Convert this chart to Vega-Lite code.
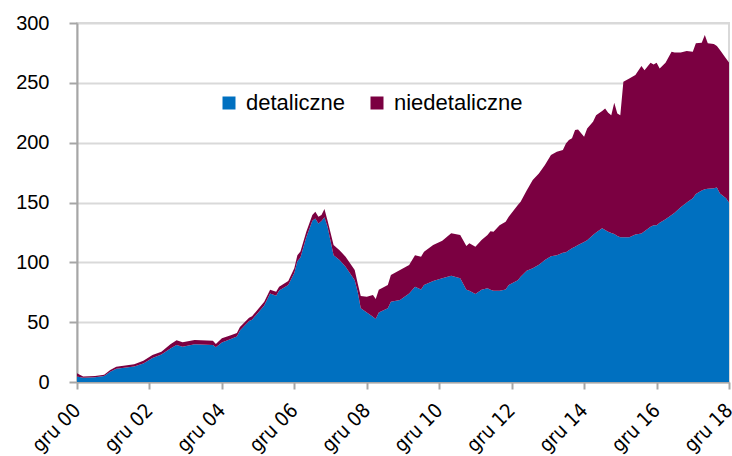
{
  "$schema": "https://vega.github.io/schema/vega-lite/v6.json",
  "width": 652,
  "height": 359,
  "autosize": "none",
  "padding": {"left": 77, "top": 23, "right": 3, "bottom": 74},
  "background": "white",
  "config": {"view": {"stroke": "#d9d9d9", "strokeWidth": 2}},
  "data": {"values": [
    {"date": "2000-12-01", "detaliczne": 4.5, "niedetaliczne": 2.8},
    {"date": "2001-02-01", "detaliczne": 3.5, "niedetaliczne": 1.1},
    {"date": "2001-06-01", "detaliczne": 4, "niedetaliczne": 1},
    {"date": "2001-09-01", "detaliczne": 5, "niedetaliczne": 1},
    {"date": "2001-11-01", "detaliczne": 8.5, "niedetaliczne": 1.5},
    {"date": "2002-01-01", "detaliczne": 11, "niedetaliczne": 1.8},
    {"date": "2002-07-01", "detaliczne": 13, "niedetaliczne": 1.8},
    {"date": "2002-10-01", "detaliczne": 15.5, "niedetaliczne": 2.3},
    {"date": "2003-01-01", "detaliczne": 20, "niedetaliczne": 2.5},
    {"date": "2003-04-01", "detaliczne": 23, "niedetaliczne": 2.3},
    {"date": "2003-07-01", "detaliczne": 28, "niedetaliczne": 3.5},
    {"date": "2003-09-01", "detaliczne": 31, "niedetaliczne": 3.8},
    {"date": "2003-11-01", "detaliczne": 29.5, "niedetaliczne": 3.7},
    {"date": "2004-03-01", "detaliczne": 31.5, "niedetaliczne": 3.5},
    {"date": "2004-09-01", "detaliczne": 31, "niedetaliczne": 3.5},
    {"date": "2004-10-01", "detaliczne": 29, "niedetaliczne": 2.7},
    {"date": "2004-12-01", "detaliczne": 33, "niedetaliczne": 3.5},
    {"date": "2005-03-01", "detaliczne": 36, "niedetaliczne": 3},
    {"date": "2005-05-01", "detaliczne": 38, "niedetaliczne": 3},
    {"date": "2005-06-01", "detaliczne": 43, "niedetaliczne": 3},
    {"date": "2005-09-01", "detaliczne": 51, "niedetaliczne": 2.7},
    {"date": "2005-10-01", "detaliczne": 52, "niedetaliczne": 3},
    {"date": "2006-02-01", "detaliczne": 64, "niedetaliczne": 3},
    {"date": "2006-04-01", "detaliczne": 74, "niedetaliczne": 3},
    {"date": "2006-06-01", "detaliczne": 72, "niedetaliczne": 3.5},
    {"date": "2006-07-01", "detaliczne": 76.5, "niedetaliczne": 3.1},
    {"date": "2006-10-01", "detaliczne": 81, "niedetaliczne": 3.4},
    {"date": "2006-12-01", "detaliczne": 91, "niedetaliczne": 4},
    {"date": "2007-01-01", "detaliczne": 101, "niedetaliczne": 5},
    {"date": "2007-02-01", "detaliczne": 104, "niedetaliczne": 5},
    {"date": "2007-04-01", "detaliczne": 121, "niedetaliczne": 4.6},
    {"date": "2007-06-01", "detaliczne": 134.8, "niedetaliczne": 4.7},
    {"date": "2007-07-01", "detaliczne": 136.7, "niedetaliczne": 5.6},
    {"date": "2007-08-01", "detaliczne": 132.5, "niedetaliczne": 5.5},
    {"date": "2007-09-01", "detaliczne": 134.5, "niedetaliczne": 5},
    {"date": "2007-10-01", "detaliczne": 137.6, "niedetaliczne": 6.9},
    {"date": "2007-11-01", "detaliczne": 129.7, "niedetaliczne": 5.3},
    {"date": "2008-01-01", "detaliczne": 106, "niedetaliczne": 8.5},
    {"date": "2008-03-01", "detaliczne": 102, "niedetaliczne": 8},
    {"date": "2008-05-01", "detaliczne": 96.3, "niedetaliczne": 8.4},
    {"date": "2008-08-01", "detaliczne": 85, "niedetaliczne": 8.6},
    {"date": "2008-09-01", "detaliczne": 75, "niedetaliczne": 7},
    {"date": "2008-10-01", "detaliczne": 61.6, "niedetaliczne": 10.2},
    {"date": "2008-12-01", "detaliczne": 58, "niedetaliczne": 13.3},
    {"date": "2009-02-01", "detaliczne": 54.6, "niedetaliczne": 18.1},
    {"date": "2009-03-01", "detaliczne": 52.6, "niedetaliczne": 16.7},
    {"date": "2009-04-01", "detaliczne": 58, "niedetaliczne": 19},
    {"date": "2009-07-01", "detaliczne": 61.6, "niedetaliczne": 19.4},
    {"date": "2009-08-01", "detaliczne": 67, "niedetaliczne": 22.4},
    {"date": "2009-11-01", "detaliczne": 68.5, "niedetaliczne": 25.1},
    {"date": "2010-02-01", "detaliczne": 74, "niedetaliczne": 23.7},
    {"date": "2010-04-01", "detaliczne": 79.6, "niedetaliczne": 26.4},
    {"date": "2010-06-01", "detaliczne": 77.4, "niedetaliczne": 27.3},
    {"date": "2010-07-01", "detaliczne": 81, "niedetaliczne": 27.9},
    {"date": "2010-10-01", "detaliczne": 84.4, "niedetaliczne": 30.1},
    {"date": "2011-01-01", "detaliczne": 86.6, "niedetaliczne": 31.4},
    {"date": "2011-04-01", "detaliczne": 88.8, "niedetaliczne": 35.4},
    {"date": "2011-07-01", "detaliczne": 86.6, "niedetaliczne": 36.2},
    {"date": "2011-09-01", "detaliczne": 77, "niedetaliczne": 36.6},
    {"date": "2011-10-01", "detaliczne": 76.3, "niedetaliczne": 39.6},
    {"date": "2011-12-01", "detaliczne": 73.5, "niedetaliczne": 39.5},
    {"date": "2012-02-01", "detaliczne": 77, "niedetaliczne": 41.6},
    {"date": "2012-04-01", "detaliczne": 78.3, "niedetaliczne": 44.5},
    {"date": "2012-05-01", "detaliczne": 77, "niedetaliczne": 49},
    {"date": "2012-06-01", "detaliczne": 76.3, "niedetaliczne": 49.3},
    {"date": "2012-08-01", "detaliczne": 76.3, "niedetaliczne": 54.7},
    {"date": "2012-10-01", "detaliczne": 77.4, "niedetaliczne": 56.6},
    {"date": "2012-11-01", "detaliczne": 81, "niedetaliczne": 57},
    {"date": "2013-02-01", "detaliczne": 85, "niedetaliczne": 62.9},
    {"date": "2013-03-01", "detaliczne": 88, "niedetaliczne": 62.6},
    {"date": "2013-05-01", "detaliczne": 93, "niedetaliczne": 67},
    {"date": "2013-07-01", "detaliczne": 95, "niedetaliczne": 73.8},
    {"date": "2013-09-01", "detaliczne": 98, "niedetaliczne": 76.3},
    {"date": "2013-11-01", "detaliczne": 102, "niedetaliczne": 79.3},
    {"date": "2014-01-01", "detaliczne": 105, "niedetaliczne": 84.6},
    {"date": "2014-03-01", "detaliczne": 106, "niedetaliczne": 86.4},
    {"date": "2014-05-01", "detaliczne": 108, "niedetaliczne": 85.8},
    {"date": "2014-06-01", "detaliczne": 108.5, "niedetaliczne": 90.9},
    {"date": "2014-07-01", "detaliczne": 110, "niedetaliczne": 92.2},
    {"date": "2014-08-01", "detaliczne": 111.7, "niedetaliczne": 91.9},
    {"date": "2014-09-01", "detaliczne": 113, "niedetaliczne": 97.5},
    {"date": "2014-10-01", "detaliczne": 114.5, "niedetaliczne": 96.6},
    {"date": "2014-12-01", "detaliczne": 117, "niedetaliczne": 88},
    {"date": "2015-01-01", "detaliczne": 118.5, "niedetaliczne": 93.3},
    {"date": "2015-03-01", "detaliczne": 122.8, "niedetaliczne": 94.7},
    {"date": "2015-04-01", "detaliczne": 125, "niedetaliczne": 98},
    {"date": "2015-06-01", "detaliczne": 128.4, "niedetaliczne": 98},
    {"date": "2015-07-01", "detaliczne": 127, "niedetaliczne": 101.6},
    {"date": "2015-08-01", "detaliczne": 125.6, "niedetaliczne": 99.4},
    {"date": "2015-09-01", "detaliczne": 124.5, "niedetaliczne": 98.5},
    {"date": "2015-10-01", "detaliczne": 123.6, "niedetaliczne": 109.8},
    {"date": "2015-11-01", "detaliczne": 122, "niedetaliczne": 102.4},
    {"date": "2015-12-01", "detaliczne": 121, "niedetaliczne": 102},
    {"date": "2016-01-01", "detaliczne": 121, "niedetaliczne": 129.9},
    {"date": "2016-03-01", "detaliczne": 121, "niedetaliczne": 132.7},
    {"date": "2016-05-01", "detaliczne": 123.3, "niedetaliczne": 133.2},
    {"date": "2016-07-01", "detaliczne": 124, "niedetaliczne": 140},
    {"date": "2016-08-01", "detaliczne": 126, "niedetaliczne": 134.6},
    {"date": "2016-10-01", "detaliczne": 129.7, "niedetaliczne": 137.1},
    {"date": "2016-11-01", "detaliczne": 131, "niedetaliczne": 134.4},
    {"date": "2016-12-01", "detaliczne": 131, "niedetaliczne": 135.8},
    {"date": "2017-01-01", "detaliczne": 133, "niedetaliczne": 129},
    {"date": "2017-03-01", "detaliczne": 136, "niedetaliczne": 130.8},
    {"date": "2017-05-01", "detaliczne": 139.5, "niedetaliczne": 136.5},
    {"date": "2017-06-01", "detaliczne": 141.4, "niedetaliczne": 134},
    {"date": "2017-08-01", "detaliczne": 146, "niedetaliczne": 129.4},
    {"date": "2017-10-01", "detaliczne": 150, "niedetaliczne": 126.5},
    {"date": "2017-12-01", "detaliczne": 153.5, "niedetaliczne": 122.5},
    {"date": "2018-01-01", "detaliczne": 157, "niedetaliczne": 126},
    {"date": "2018-03-01", "detaliczne": 160, "niedetaliczne": 123.5},
    {"date": "2018-04-01", "detaliczne": 161, "niedetaliczne": 129},
    {"date": "2018-05-01", "detaliczne": 161.5, "niedetaliczne": 121.5},
    {"date": "2018-07-01", "detaliczne": 162, "niedetaliczne": 120.4},
    {"date": "2018-08-01", "detaliczne": 162.6, "niedetaliczne": 118.1},
    {"date": "2018-09-01", "detaliczne": 157.6, "niedetaliczne": 119.8},
    {"date": "2018-11-01", "detaliczne": 153.5, "niedetaliczne": 116.9},
    {"date": "2018-12-01", "detaliczne": 150, "niedetaliczne": 117}
  ]},
  "transform": [
    {"fold": ["detaliczne", "niedetaliczne"], "as": ["seria", "wartosc"]}
  ],
  "mark": {"type": "area", "interpolate": "linear"},
  "encoding": {
    "x": {
      "field": "date",
      "type": "temporal",
      "scale": {"type": "utc", "domain": [{"year": 2000, "month": 12, "date": 1, "utc": true}, {"year": 2018, "month": 12, "date": 1, "utc": true}]},
      "axis": {
        "title": null,
        "grid": false,
        "values": [
          {"year": 2000, "month": 12, "date": 1, "utc": true},
          {"year": 2002, "month": 12, "date": 1, "utc": true},
          {"year": 2004, "month": 12, "date": 1, "utc": true},
          {"year": 2006, "month": 12, "date": 1, "utc": true},
          {"year": 2008, "month": 12, "date": 1, "utc": true},
          {"year": 2010, "month": 12, "date": 1, "utc": true},
          {"year": 2012, "month": 12, "date": 1, "utc": true},
          {"year": 2014, "month": 12, "date": 1, "utc": true},
          {"year": 2016, "month": 12, "date": 1, "utc": true},
          {"year": 2018, "month": 12, "date": 1, "utc": true}
        ],
        "labelExpr": "'gru ' + utcFormat(datum.value, '%y')",
        "labelAngle": -45,
        "labelAlign": "right",
        "labelBaseline": "middle",
        "labelFont": "DejaVu Sans Condensed, DejaVu Sans",
        "labelFontSize": 20,
        "labelColor": "#000000",
        "labelPadding": 18,
        "labelDx": -1,
        "labelOverlap": false,
        "labelFlush": false,
        "domainColor": "#a6a6a6",
        "domainWidth": 2,
        "tickColor": "#a6a6a6",
        "tickWidth": 2,
        "tickSize": 7
      }
    },
    "y": {
      "field": "wartosc",
      "type": "quantitative",
      "stack": "zero",
      "scale": {"domain": [0, 300], "nice": false},
      "axis": {
        "title": null,
        "values": [0, 50, 100, 150, 200, 250, 300],
        "labelFont": "Liberation Sans",
        "labelFontSize": 20,
        "labelColor": "#000000",
        "labelPadding": 20,
        "gridColor": "#d9d9d9",
        "gridWidth": 2,
        "domainColor": "#a6a6a6",
        "domainWidth": 2,
        "tickColor": "#a6a6a6",
        "tickWidth": 2,
        "tickSize": 8
      }
    },
    "color": {
      "field": "seria",
      "type": "nominal",
      "scale": {"domain": ["detaliczne", "niedetaliczne"], "range": ["#0070C0", "#7B0041"]},
      "legend": {
        "title": null,
        "orient": "none",
        "legendX": 141,
        "legendY": 69,
        "direction": "horizontal",
        "symbolType": "square",
        "symbolSize": 169,
        "symbolStrokeWidth": 0,
        "labelFont": "Liberation Sans",
        "labelFontSize": 22,
        "labelColor": "#000000",
        "labelOffset": 6,
        "columnPadding": 20
      }
    },
    "order": {"field": "seria", "sort": "ascending"}
  }
}
